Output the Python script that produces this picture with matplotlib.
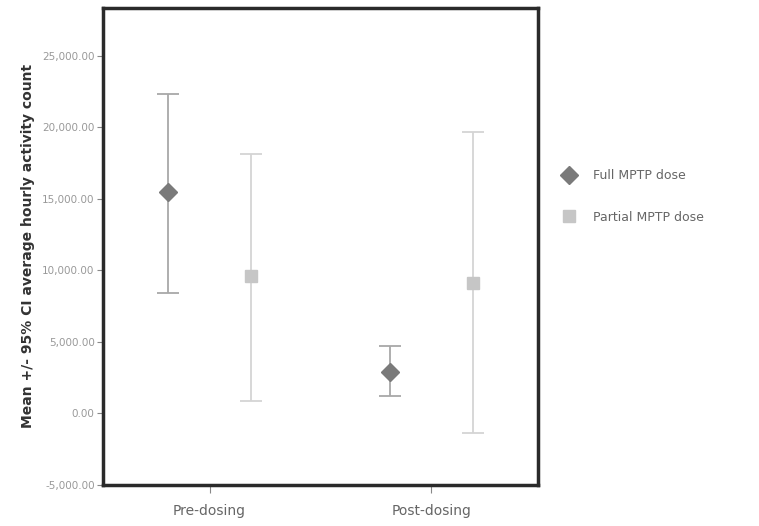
import matplotlib
matplotlib.use("Agg")
import matplotlib.pyplot as plt
import numpy as np

categories = ["Pre-dosing", "Post-dosing"]
series = ["Full MPTP dose", "Partial MPTP dose"]
full_mean = [15450, 2900]
full_low = [8450, 1200]
full_high = [22300, 4700]
partial_mean = [9600, 9100]
partial_low = [900, -1400]
partial_high = [18150, 19650]

fig = plt.figure(figsize=(7.59, 5.26), dpi=100)
ax = fig.add_axes([0.1357, 0.078, 0.5731, 0.907])

x = np.arange(len(categories))
off = 0.185
specs = [
    (full_mean, full_low, full_high, -off, "D", "#7a7a7a", "#a8a8a8", 9, series[0]),
    (partial_mean, partial_low, partial_high, off, "s", "#c6c6c6", "#d4d4d4", 8, series[1]),
]
for mean, lo, hi, o, mk, mc, lc, ms, lab in specs:
    mean = np.array(mean); lo = np.array(lo); hi = np.array(hi)
    ax.errorbar(x + o, mean, yerr=[mean - lo, hi - mean], fmt="none",
                ecolor=lc, elinewidth=1.3, capsize=8, capthick=1.3)
    ax.plot(x + o, mean, linestyle="none", marker=mk, color=mc, markersize=ms, label=lab)

ax.set_xlim(-0.48, 1.48)
ax.set_ylim(-5000, 28350)
ax.set_xticks(x)
ax.set_xticklabels(categories, fontsize=10, color="#666666")
yt = np.arange(-5000, 25001, 5000)
ax.set_yticks(yt)
ax.set_yticklabels([f"{v:,.2f}" for v in yt], fontsize=7.5, color="#999999")
ax.set_ylabel("Mean +/- 95% CI average hourly activity count", fontsize=10,
              fontweight="bold", color="#333333", labelpad=5)
ax.tick_params(axis="y", direction="out", length=4, color="#888888", width=0.8, pad=2)
ax.tick_params(axis="x", direction="out", length=6, color="#888888", width=0.8, pad=8)
for s in ax.spines.values():
    s.set_linewidth(2.5)
    s.set_color("#2a2a2a")

leg = fig.legend(loc="upper left", bbox_to_anchor=(0.725, 0.70), frameon=False,
                 fontsize=9, handletextpad=1.3, labelspacing=2.3, numpoints=1,
                 labelcolor="#666666", handlelength=1.2)
fig.savefig("out.png", dpi=100)
